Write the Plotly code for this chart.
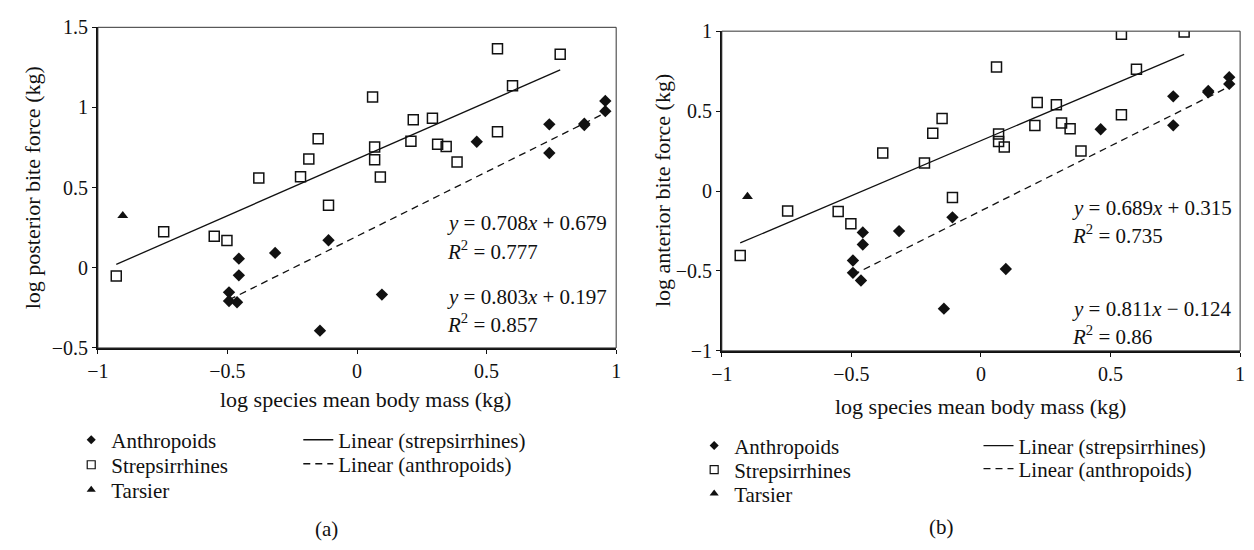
import numpy as np
import plotly.graph_objects as go

# ---------------- data ----------------
x_strep = [-0.929, -0.746, -0.551, -0.502, -0.379, -0.218, -0.186, -0.150, -0.110,
           0.060, 0.068, 0.068, 0.090, 0.208, 0.217, 0.291, 0.311, 0.344, 0.386,
           0.542, 0.542, 0.600, 0.784]
y_strep_post = [-0.051, 0.225, 0.197, 0.171, 0.560, 0.568, 0.678, 0.805, 0.390,
                1.065, 0.753, 0.674, 0.566, 0.789, 0.923, 0.933, 0.771, 0.757, 0.660,
                1.366, 0.849, 1.135, 1.332]
y_strep_ant = [-0.404, -0.125, -0.129, -0.205, 0.237, 0.175, 0.362, 0.453, -0.041,
               0.776, 0.356, 0.309, 0.275, 0.410, 0.554, 0.540, 0.425, 0.389, 0.251,
               0.980, 0.477, 0.762, 0.994]

x_anth = [-0.494, -0.494, -0.463, -0.456, -0.456, -0.316, -0.143, -0.110, 0.096,
          0.462, 0.742, 0.742, 0.877, 0.877, 0.958, 0.958]
y_anth_post = [-0.153, -0.207, -0.215, 0.057, -0.047, 0.093, -0.392, 0.172, -0.167,
               0.786, 0.895, 0.716, 0.899, 0.890, 1.041, 0.977]
y_anth_ant = [-0.435, -0.512, -0.560, -0.259, -0.335, -0.251, -0.736, -0.165, -0.488,
              0.386, 0.592, 0.411, 0.626, 0.618, 0.712, 0.670]

x_tars_post = [-0.904]
y_tars_post = [0.325]
x_tars_ant = [-0.901]
y_tars_ant = [-0.035]

fit_post = {"strep": (0.708, 0.679, "0.777"), "anth": (0.803, 0.197, "0.857")}
fit_ant = {"strep": (0.689, 0.315, "0.735"), "anth": (0.811, -0.124, "0.86")}

x_title = "log species mean body mass (kg)"
y_title_post = "log posterior bite force (kg)"
y_title_ant = "log anterior bite force (kg)"

# ---------------- layout constants ----------------
W, H = 1254, 550
FONT = "Liberation Serif"
INK = "#111111"

def px(x):
    return x / W

def py(y):
    return 1 - y / H

panels = [
    dict(xa="x", ya="y", xd=[px(88), px(613)], yd=[py(351), py(17)], yr=[-0.5, 1.5],
         ys=y_strep_post, ya_=y_anth_post, xt=x_tars_post, yt=y_tars_post, fit=fit_post,
         ytitle=y_title_post,
         legs=[("legend", 61, 447), ("legend2", 61, 473), ("legend3", 61, 499),
               ("legend4", 291, 447), ("legend5", 291, 472)]),
    dict(xa="x2", ya="y2", xd=[px(720), px(1245)], yd=[py(354), py(21)], yr=[-1, 1],
         ys=y_strep_ant, ya_=y_anth_ant, xt=x_tars_ant, yt=y_tars_ant, fit=fit_ant,
         ytitle=y_title_ant,
         legs=[("legend6", 692, 453), ("legend7", 692, 478), ("legend8", 692, 503),
               ("legend9", 980, 453), ("legend10", 980, 477)]),
]

fig = go.Figure()

for p in panels:
    s_m, s_b, _ = p["fit"]["strep"]
    a_m, a_b, _ = p["fit"]["anth"]
    xs = np.array([min(x_strep), max(x_strep)])
    xa = np.array([min(x_anth), max(x_anth)])
    common = dict(xaxis=p["xa"], yaxis=p["ya"])
    L = [l[0] for l in p["legs"]]
    # regression lines
    fig.add_trace(go.Scatter(x=xs, y=s_m * xs + s_b, mode="lines", **common,
                             line=dict(color=INK, width=1.3), name="Linear (strepsirrhines)",
                             legend=L[3]))
    fig.add_trace(go.Scatter(x=xa, y=a_m * xa + a_b, mode="lines", **common,
                             line=dict(color=INK, width=1.3, dash="7px,5px"),
                             name="Linear (anthropoids)", legend=L[4]))
    # data points
    fig.add_trace(go.Scatter(x=x_anth, y=p["ya_"], mode="markers", **common,
                             marker=dict(symbol="diamond", size=9.5, color=INK),
                             name="Anthropoids", showlegend=False))
    fig.add_trace(go.Scatter(x=x_strep, y=p["ys"], mode="markers", **common,
                             marker=dict(symbol="square-open", size=10, color=INK,
                                         line=dict(width=1.5, color=INK)),
                             name="Strepsirrhines", showlegend=False))
    fig.add_trace(go.Scatter(x=p["xt"], y=p["yt"], mode="markers", **common,
                             marker=dict(symbol="triangle-up", size=9.5, color=INK),
                             name="Tarsier", showlegend=False))
    # legend-only entries (smaller symbols, as in the reference legend)
    fig.add_trace(go.Scatter(x=[None], y=[None], mode="markers", **common,
                             marker=dict(symbol="diamond", size=7, color=INK),
                             name="Anthropoids", legend=L[0]))
    fig.add_trace(go.Scatter(x=[None], y=[None], mode="markers", **common,
                             marker=dict(symbol="square-open", size=8, color=INK,
                                         line=dict(width=1.2, color=INK)),
                             name="Strepsirrhines", legend=L[1]))
    fig.add_trace(go.Scatter(x=[None], y=[None], mode="markers", **common,
                             marker=dict(symbol="triangle-up", size=8, color=INK),
                             name="Tarsier", legend=L[2]))

axis_common = dict(showgrid=False, zeroline=False, showline=True, linecolor=INK, linewidth=1.6,
                   ticks="outside", ticklen=4, tickwidth=1.2, tickcolor=INK,
                   tickfont=dict(family=FONT, size=20, color=INK), dtick=0.5)

layout = dict(width=W, height=H, margin=dict(l=0, r=0, t=0, b=0),
              paper_bgcolor="white", plot_bgcolor="white", showlegend=True,
              font=dict(family=FONT, size=20, color=INK))

layout["xaxis"] = dict(axis_common, domain=panels[0]["xd"], range=[-1, 1], anchor="y")
layout["yaxis"] = dict(axis_common, domain=panels[0]["yd"], range=panels[0]["yr"], anchor="x")
layout["xaxis2"] = dict(axis_common, domain=panels[1]["xd"], range=[-1, 1], anchor="y2")
layout["yaxis2"] = dict(axis_common, domain=panels[1]["yd"], range=panels[1]["yr"], anchor="x2")

leg_common = dict(bgcolor="rgba(0,0,0,0)", borderwidth=0, xanchor="left", yanchor="middle",
                  font=dict(family=FONT, size=21, color=INK), itemwidth=30)
for p in panels:
    for name, lx, ly in p["legs"]:
        layout[name] = dict(leg_common, x=px(lx), y=py(ly))

fig.update_layout(**layout)

shapes = []
annotations = []
eq_font = dict(family=FONT, size=21, color=INK)
lab_font = dict(family=FONT, size=22, color=INK)
cap_font = dict(family=FONT, size=21, color=INK)

eq_pos = [  # (left x px, y px of eq1, y px of eq2)
    (440, 221, 298),
    (1073, 205, 310),
]
caption = ["(a)", "(b)"]
cap_pos = [(320, 540), (943, 538)]
xt_pos = [(359, 405), (982, 412)]
yt_pos = [(22, 184), (660, 187)]

def fmt(m, b):
    sign = "+" if b >= 0 else "\u2212"
    return f"<i>y</i> = {m:.3f}<i>x</i> {sign} {abs(b):.3f}"

for i, p in enumerate(panels):
    xref = p["xa"] + " domain"
    yref = p["ya"] + " domain"
    shapes.append(dict(type="rect", xref=xref, yref=yref, x0=0, x1=1, y0=0, y1=1,
                       line=dict(color="#333333", width=1)))
    s_m, s_b, s_r = p["fit"]["strep"]
    a_m, a_b, a_r = p["fit"]["anth"]
    ex, ey1, ey2 = eq_pos[i]
    texts = [(ey1, fmt(s_m, s_b)), (ey1 + 28, f"<i>R</i><sup>2</sup> = {s_r}"),
             (ey2, fmt(a_m, a_b)), (ey2 + 28, f"<i>R</i><sup>2</sup> = {a_r}")]
    for yy, tt in texts:
        annotations.append(dict(x=px(ex), y=py(yy), xref="paper", yref="paper", xanchor="left",
                                yanchor="middle", showarrow=False, font=eq_font, text=tt))
    annotations.append(dict(x=px(xt_pos[i][0]), y=py(xt_pos[i][1]), xref="paper", yref="paper",
                            xanchor="center", yanchor="middle", showarrow=False, font=lab_font,
                            text=x_title))
    annotations.append(dict(x=px(yt_pos[i][0]), y=py(yt_pos[i][1]), xref="paper", yref="paper",
                            xanchor="center", yanchor="middle", showarrow=False, font=lab_font,
                            textangle=-90, text=p["ytitle"]))
    annotations.append(dict(x=px(cap_pos[i][0]), y=py(cap_pos[i][1]), xref="paper", yref="paper",
                            xanchor="center", yanchor="middle", showarrow=False, font=cap_font,
                            text=caption[i]))

fig.update_layout(shapes=shapes, annotations=annotations)
fig.write_html("out.html", config={"displayModeBar": False},
               post_script="document.body.style.margin='0';document.body.style.overflow='hidden';")
